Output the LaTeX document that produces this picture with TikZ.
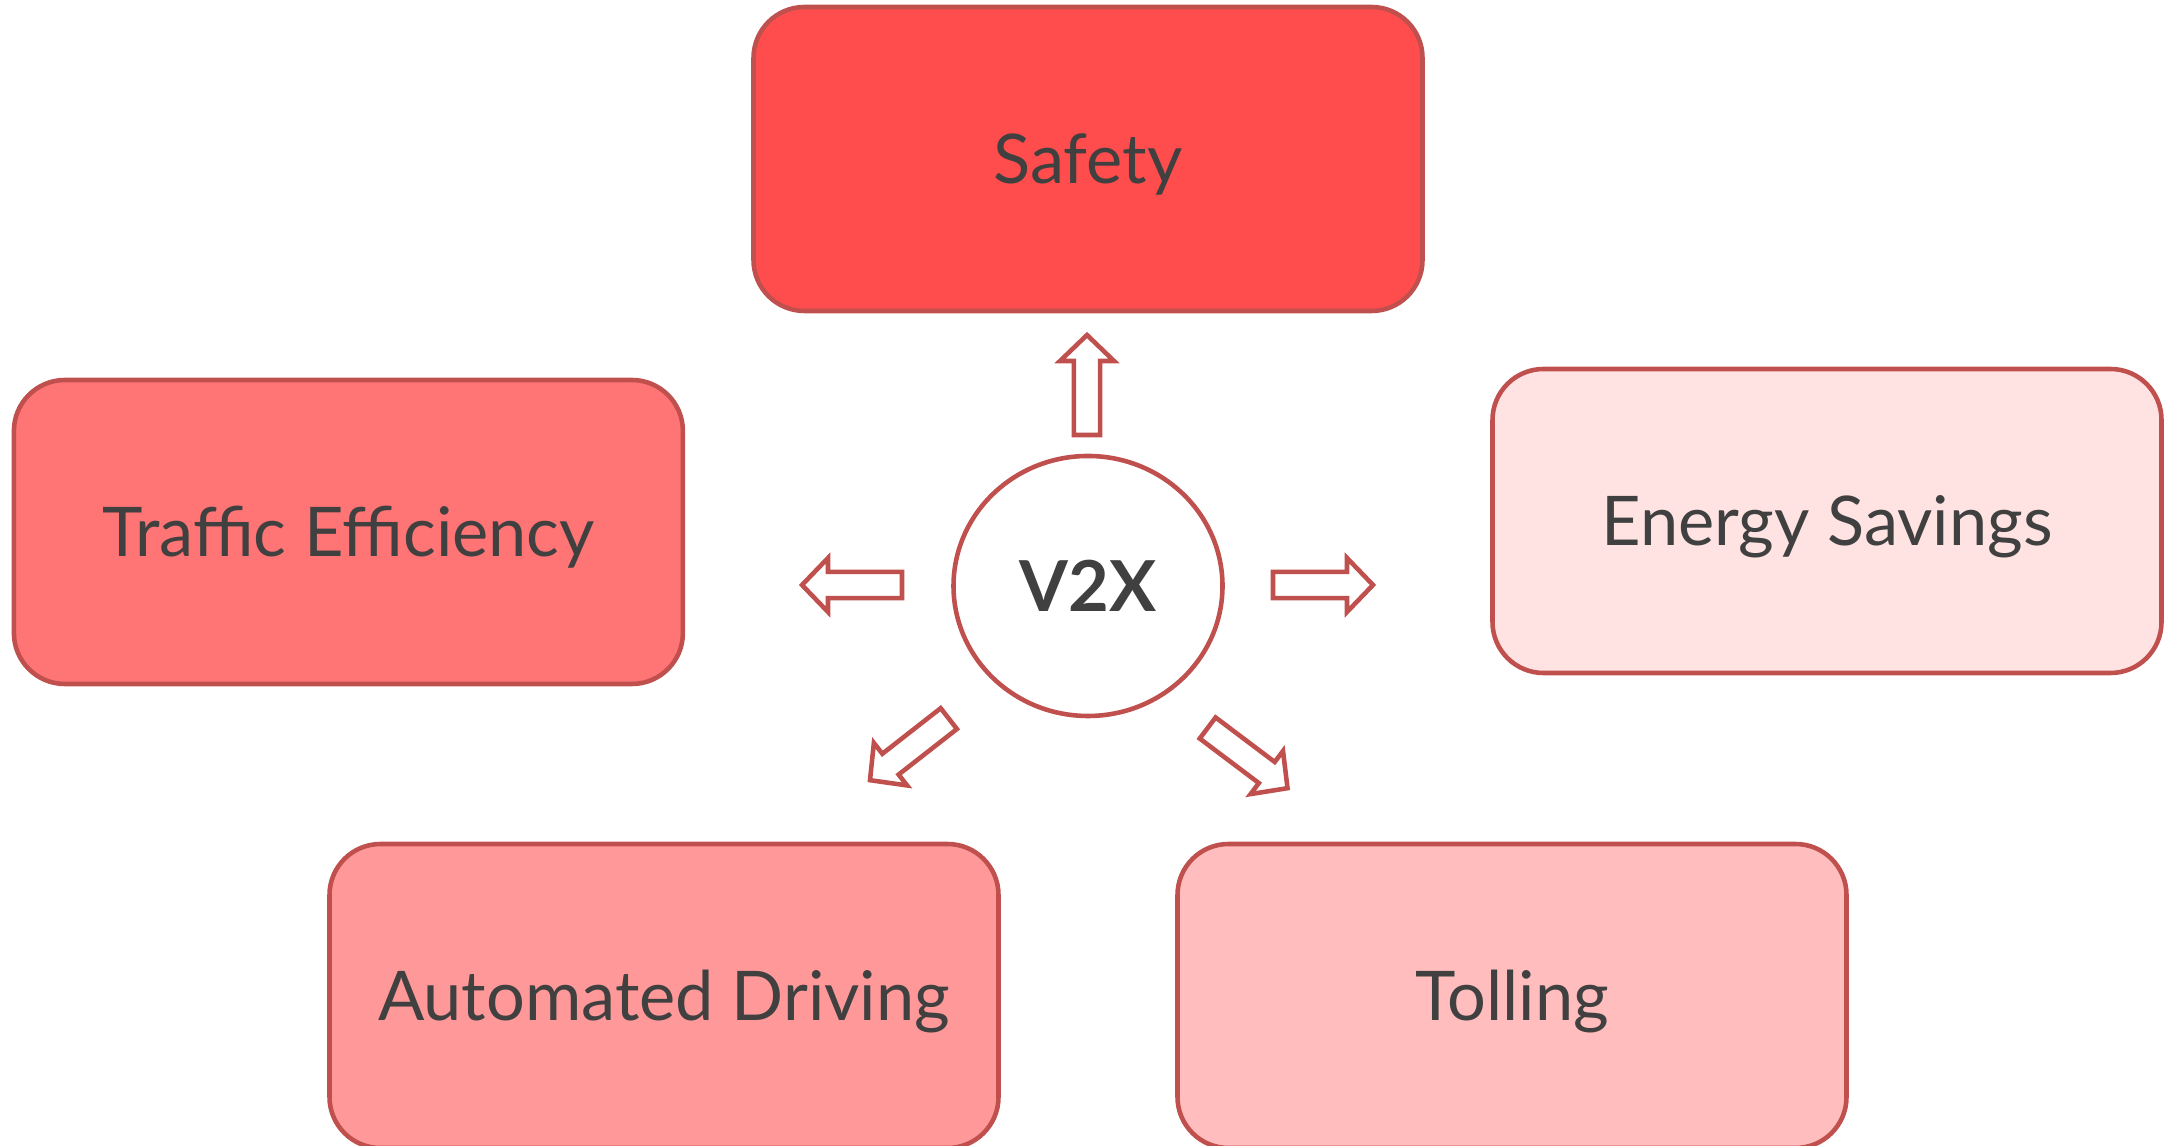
\documentclass[tikz,border=0pt]{standalone}
\usepackage{fontspec}
\setmainfont{Lato}
\usetikzlibrary{shapes.geometric}
\definecolor{edge}{HTML}{C0504D}
\definecolor{txt}{HTML}{404040}
\definecolor{fsafety}{HTML}{FF4D4D}
\definecolor{ftraffic}{HTML}{FF7474}
\definecolor{fauto}{HTML}{FF9999}
\definecolor{ftoll}{HTML}{FFBDBD}
\definecolor{fenergy}{HTML}{FFE3E3}
\tikzset{
  box/.style={draw=edge, line width=1.3pt, rounded corners=0.51cm, minimum width=6.69cm, minimum height=3.04cm, inner sep=0pt, text=txt, font=\fontsize{19.5}{23}\selectfont, text height=14pt, text depth=0pt},
  hub/.style={draw=edge, line width=1.3pt, ellipse, minimum width=2.69cm, minimum height=2.60cm, inner sep=0pt, fill=white, text=txt, font=\fontsize{20}{24}\selectfont\bfseries, text height=14.4pt, text depth=0pt},
  arrowshape/.style={draw=edge, fill=white, line width=1.3pt}
}
\newcommand\blockarr[2]{%
  \begin{scope}[shift={(#1)}, rotate=#2]
    \draw[arrowshape] (-0.5,-0.132) -- (0.24,-0.132) -- (0.24,-0.27) -- (0.5,0)
      -- (0.24,0.27) -- (0.24,0.132) -- (-0.5,0.132) -- cycle;
  \end{scope}}
\begin{document}
\begin{tikzpicture}
\useasboundingbox (0,0) rectangle (21.76,11.46);
\node[box, fill=fsafety] (safety) at (10.88,9.87) {Safety};
\node[box, fill=ftraffic] (traffic) at (3.484,6.14) {Traffic Efficiency};
\node[box, fill=fenergy] (energy) at (18.27,6.25) {Energy Savings};
\node[box, fill=fauto] (auto) at (6.64,1.50) {Automated Driving};
\node[box, fill=ftoll] (toll) at (15.12,1.50) {Tolling};
\node[hub] (v2x) at (10.88,5.60) {V2X};
\blockarr{10.87,7.61}{90}
\blockarr{8.52,5.61}{180}
\blockarr{13.23,5.61}{0}
\blockarr{9.094,3.966}{218}
\blockarr{12.476,3.879}{-37}
\end{tikzpicture}
\end{document}
